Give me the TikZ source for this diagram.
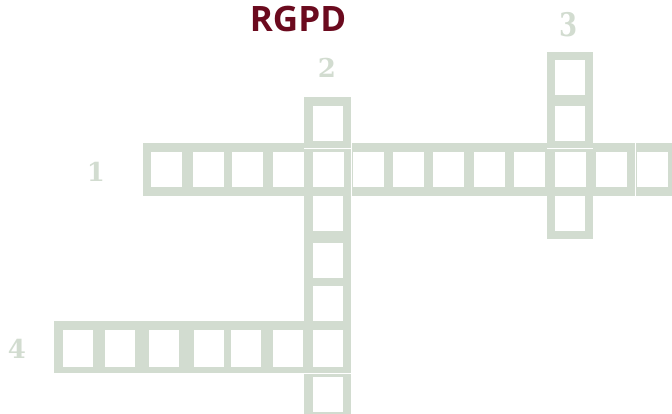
\documentclass[tikz,border=0pt]{standalone}
\usepackage{fontspec}
\usepackage{graphicx}
\newfontfamily\titlefont{Open Sans}
\newfontfamily\numfont{DejaVu Serif}
\definecolor{frame}{HTML}{D2DCD0}
\definecolor{titlered}{HTML}{6B0A1E}
\begin{document}
\begin{tikzpicture}[x=1pt,y=-1pt,
  bar/.style={fill=frame},
  seam/.style={draw=white,line width=0.7pt},
  rcell/.style={fill=white,draw=none,inner sep=0pt,anchor=north west,minimum width=31pt,minimum height=35pt},
  ccell/.style={fill=white,draw=none,inner sep=0pt,anchor=north west,minimum width=30pt,minimum height=35pt},
  qcell/.style={fill=white,draw=none,inner sep=0pt,anchor=north west,minimum width=30pt,minimum height=37pt},
  num/.style={text=frame,font=\numfont\bfseries\fontsize{26}{26}\selectfont,inner sep=0pt}]
\useasboundingbox (0,0) rectangle (672,414);
% title
\node[text=titlered,font=\titlefont\bfseries\fontsize{35}{35}\selectfont,inner sep=0pt] (title) at (298,19) {RGPD};
% bars
\fill[bar] (143,143) rectangle (676,196);
\fill[bar] (304,97) rectangle (351,418);
\fill[bar] (547,52) rectangle (593,239);
\fill[bar] (54,321) rectangle (351,373);
% seams
\draw[seam] (304,148.3) -- (351,148.3);
\draw[seam] (547,148.5) -- (593,148.5);
\draw[seam] (351,143) -- (351,200);
\draw[seam] (635,143) -- (635,196);
\draw[seam] (303,373.5) -- (351,373.5);
% row 1
\foreach \x [count=\i] in {151,193,232,273,313,353,393,433,474,514,555,596,637}
  \node[rcell] (a\i) at (\x,152) {};
% column 2
\node[ccell] (b1) at (313,106) {};
\node[ccell] (b3) at (313,196) {};
\node[ccell] (b4) at (313,243) {};
\node[ccell] (b5) at (313,286) {};
\node[ccell] (b7) at (313,377) {};
% column 3
\node[ccell] (c1) at (555,60) {};
\node[ccell] (c2) at (555,106) {};
\node[ccell] (c4) at (555,196) {};
% row 4
\foreach \x [count=\i] in {63,105,149,194,231,273,313}
  \node[qcell] (d\i) at (\x,330) {};
% numbers
\node[num] (n1) at (96,172) {1};
\node[num] (n2) at (327,68) {2};
\node[num] (n3) at (569,25) {\scalebox{1}[1.25]{3}};
\node[num] (n4) at (17,349) {4};
\end{tikzpicture}
\end{document}
